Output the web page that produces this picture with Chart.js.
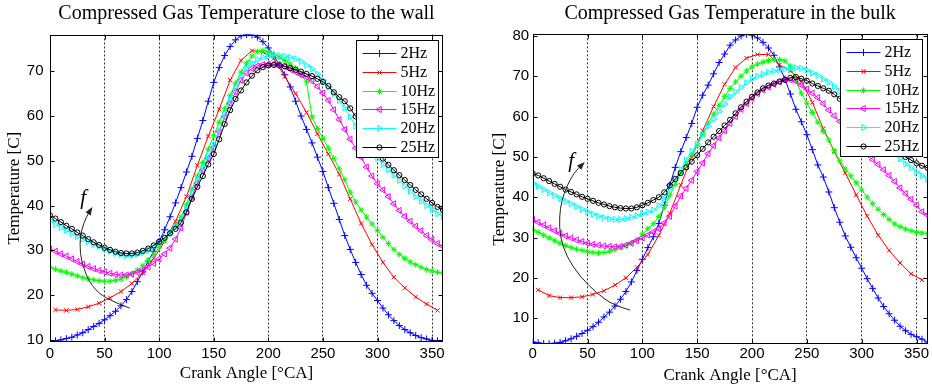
<!DOCTYPE html>
<html><head><meta charset="utf-8">
<script src="https://cdn.jsdelivr.net/npm/chart.js@4.4.1/dist/chart.umd.min.js"></script>
<style>
html,body{margin:0;padding:0;background:#fff;}
#wrap{position:relative;width:932px;height:390px;overflow:hidden;background:#fff;}
canvas{position:absolute;top:0;}
</style></head><body>
<div id="wrap">
<canvas id="cWall" width="466" height="390" style="left:0"></canvas>
<canvas id="cBulk" width="466" height="390" style="left:466px"></canvas>
</div>
<script>
// ---------------- DATA ----------------
const angle5 = [0,5,10,15,20,25,30,35,40,45,50,55,60,65,70,75,80,85,90,95,100,105,110,115,120,125,130,135,140,145,150,155,160,165,170,175,180,185,190,195,200,205,210,215,220,225,230,235,240,245,250,255,260,265,270,275,280,285,290,295,300,305,310,315,320,325,330,335,340,345,350,355,360];
const angle10 = [5,15,25,35,45,55,65,75,85,95,105,115,125,135,145,155,165,175,185,195,205,215,225,235,245,255,265,275,285,295,305,315,325,335,345,355];
const xTickValues = [0,50,100,150,200,250,300,350];
const wallTempTicks = [10,20,30,40,50,60,70];
const bulkTempTicks = [10,20,30,40,50,60,70,80];
const seriesLabels = ['2Hz','5Hz','10Hz','15Hz','20Hz','25Hz'];

// Close to the wall
const wall2Hz = [9.8,9.8,10.0,10.3,10.6,11.1,11.6,12.3,13.0,13.7,14.5,15.4,16.4,17.6,19.0,20.8,23.0,25.2,27.6,29.8,32.0,34.6,37.5,40.6,44.0,47.5,51.0,55.0,59.0,63.3,67.5,70.8,73.5,75.5,77.0,77.9,78.2,78.1,77.6,76.6,75.2,73.6,71.4,69.2,66.5,63.3,60.0,57.0,54.0,50.8,47.6,44.0,40.5,36.9,33.3,30.2,27.3,24.6,22.2,20.4,18.8,17.1,15.6,14.3,13.2,12.3,11.6,11.0,10.5,10.2,9.9,9.8,9.8];
const wall5Hz = [16.7,16.6,16.8,17.4,18.2,19.4,20.8,22.6,25.0,28.2,32.0,36.5,42.0,49.0,55.5,61.5,68.0,72.4,74.6,74.3,72.8,68.8,65.0,60.8,56.0,51.5,47.0,41.5,36.0,31.3,27.3,24.0,21.6,19.6,18.0,16.6];
const wall10Hz = [26.2,25.8,25.4,25.1,24.7,24.3,23.9,23.6,23.4,23.2,23.1,23.1,23.3,23.6,24.1,24.8,25.6,26.6,27.8,29.1,30.6,32.3,34.0,35.6,37.4,40.2,43.6,46.6,49.6,52.6,55.6,58.6,61.6,64.6,67.3,69.8,71.8,73.4,74.4,74.6,74.3,73.7,73.1,72.4,71.6,70.7,69.2,67.6,59.8,57.2,55.0,52.8,50.5,48.2,45.8,43.0,40.8,39.0,37.4,35.9,34.4,32.9,31.5,30.2,29.1,28.2,27.4,26.8,26.2,25.7,25.4,25.1,24.9];
const wall15Hz = [30.3,29.8,29.2,28.7,28.1,27.5,26.9,26.4,25.9,25.5,25.2,24.9,24.6,24.5,24.5,24.7,25.1,25.6,26.3,27.1,28.1,29.2,30.5,32.5,35.0,38.5,42.0,45.0,47.9,50.5,53.0,56.5,59.8,62.8,65.4,68.0,69.6,70.6,71.2,71.5,71.6,71.6,71.4,71.0,70.4,69.8,69.2,68.7,67.8,66.6,65.1,63.5,61.4,59.2,57.0,54.8,52.8,50.8,48.6,46.6,44.9,43.5,42.0,40.4,38.9,37.6,36.5,35.4,34.4,33.3,32.4,31.5,30.9];
const wall20Hz = [36.6,35.8,35.1,34.5,33.8,33.1,32.5,31.9,31.3,30.8,30.3,29.8,29.3,29.0,28.8,28.9,29.1,29.5,30.1,30.9,31.9,32.9,33.9,35.2,36.8,39.5,43.0,46.0,48.5,51.0,53.5,56.8,60.2,63.8,66.6,69.0,70.6,71.8,72.6,73.1,73.4,73.5,73.5,73.4,73.1,72.8,72.2,71.3,70.5,69.4,68.0,66.4,65.0,63.5,61.8,59.8,57.8,55.5,53.6,52.0,50.5,49.2,48.0,46.8,45.6,44.4,43.2,42.0,41.0,40.0,39.1,38.2,37.5];
const wall25Hz = [37.8,37.1,36.3,35.5,34.8,34.0,33.3,32.5,31.8,31.2,30.6,30.1,29.7,29.4,29.3,29.3,29.5,29.9,30.4,31.1,31.9,32.8,33.8,34.8,36.2,38.5,41.5,44.2,46.6,49.2,51.5,54.8,58.2,61.3,63.8,65.7,67.5,69.0,70.2,70.9,71.3,71.4,71.3,71.1,70.7,70.3,69.9,69.4,68.9,68.3,67.6,66.7,65.3,64.2,63.3,61.7,59.9,57.8,55.8,53.8,52.0,50.5,49.1,47.9,46.8,45.7,44.6,43.5,42.5,41.5,40.6,39.7,39.0];

// In the bulk
const bulk2Hz = [4.1,3.9,3.7,3.65,3.8,4.0,4.4,4.9,5.5,6.2,7.0,7.9,9.0,10.3,11.5,13.0,14.7,16.6,19.0,21.8,24.6,27.5,30.2,33.5,38.0,43.0,47.4,51.3,54.8,58.3,62.3,65.3,67.8,70.6,73.4,75.5,77.7,79.0,80.0,80.4,80.2,79.5,78.4,77.0,75.2,72.3,69.3,65.6,61.8,58.7,55.5,51.8,48.0,45.0,41.3,37.4,33.8,30.4,27.6,25.0,22.4,19.8,17.4,15.0,12.9,11.1,9.5,8.0,6.9,6.0,5.4,4.8,4.1];
const bulk5Hz = [17.0,15.6,15.1,15.1,15.3,15.9,16.8,18.2,20.0,22.6,25.8,30.5,36.0,43.0,50.0,56.5,62.5,68.0,72.2,74.5,75.4,75.4,72.8,71.3,68.8,63.5,57.0,51.3,46.0,40.6,35.3,30.6,26.8,23.7,21.0,19.5];
const bulk10Hz = [32.0,31.3,30.6,29.9,29.2,28.6,28.0,27.5,27.1,26.8,26.5,26.3,26.2,26.3,26.6,27.0,27.5,28.0,28.7,29.5,30.8,32.2,33.4,35.2,37.5,40.5,43.2,46.0,48.3,50.5,52.8,55.5,58.3,60.6,62.8,65.0,67.0,68.6,70.0,71.3,72.3,73.0,73.5,73.9,74.1,74.1,73.8,72.5,68.8,65.8,63.3,61.0,58.6,56.3,54.2,51.5,49.0,47.0,45.3,43.6,41.8,40.0,38.4,37.0,35.7,34.5,33.4,32.7,32.1,31.7,31.3,31.1,31.0];
const bulk15Hz = [34.5,33.8,33.1,32.4,31.7,31.0,30.4,29.9,29.4,29.0,28.6,28.3,28.1,27.9,27.8,27.7,27.8,28.1,28.6,29.2,29.9,30.6,31.4,32.2,33.6,35.3,37.8,40.3,42.2,44.2,46.4,48.5,50.8,52.8,54.7,56.5,58.3,60.0,61.8,63.2,64.5,65.7,66.6,67.3,68.0,68.6,69.0,69.1,68.8,67.8,66.8,65.8,64.7,63.2,61.6,60.2,58.8,57.2,55.5,53.7,52.0,50.6,49.3,48.1,46.8,45.4,43.9,42.3,40.9,39.5,38.0,36.4,35.6];
const bulk20Hz = [43.5,42.7,41.9,41.1,40.4,39.7,39.0,38.4,37.7,37.0,36.4,35.8,35.3,34.9,34.6,34.5,34.5,34.7,35.0,35.4,35.9,36.3,36.8,37.9,39.5,42.2,44.7,46.8,49.2,51.4,53.2,55.6,57.6,59.4,61.3,63.1,64.9,66.1,67.2,68.4,69.4,70.0,70.5,71.0,71.3,71.6,71.8,72.0,72.1,72.0,71.5,70.8,70.2,69.3,68.5,67.5,66.3,65.0,63.5,62.0,60.4,58.8,57.2,55.6,54.0,52.4,50.9,49.5,48.3,47.3,46.3,45.3,44.4];
const bulk25Hz = [45.9,45.4,44.7,44.0,43.3,42.6,41.9,41.3,40.7,40.1,39.6,39.1,38.6,38.2,37.8,37.5,37.3,37.2,37.2,37.5,38.0,38.6,39.3,40.0,41.2,42.9,44.5,46.0,47.4,48.8,50.4,52.0,53.6,55.0,56.4,57.8,59.2,60.8,62.3,63.7,64.9,66.0,67.0,67.7,68.2,68.7,69.1,69.6,69.8,69.4,68.9,68.2,67.6,67.0,66.4,65.5,64.4,63.2,62.0,60.6,59.2,57.9,56.6,55.3,54.1,53.0,51.9,50.9,50.0,49.2,48.4,47.8,47.3];

// Annotation arrows ("f" = increasing frequency), in data units
const wallArrowAngle = [73,53,38,28.7,27.2,28.7,33.3,37.8];
const wallArrowTemp  = [17.1,18.9,21.9,27.1,31.5,34.5,37.5,39.3];
const wallArrowLabelAt = [30.3, 41.6];
const bulkArrowAngle = [88.9,73.6,58.4,43.2,31,24.9,24.3,26.5,31,37.1,46.2];
const bulkArrowTemp  = [12,13.2,16.2,20.3,25.2,30.2,35.2,39.3,42.6,45.9,48.4];
const bulkArrowLabelAt = [35, 48.8];

// ---------------- STYLE ----------------
const seriesColors = ['#0000ff','#ff0000','#00ff00','#ff00ff','#00ffff','#000000'];
const markerStyles = ['cross','crossRot','star','triangle','triangle','circle'];
const markerRotations = [0,0,0,-90,90,0];
const markerRadii = [3.5,3,3,3.5,3.5,2.6];
const SERIF = '"Liberation Serif", "Times New Roman", serif';
const SANS = '"Liberation Sans", Arial, sans-serif';

function makeDatasets(list) {
  return list.map((s, i) => ({
    label: seriesLabels[i],
    data: s.a.map((a, k) => ({x: a, y: s.t[k]})),
    borderColor: seriesColors[i],
    backgroundColor: 'rgba(0,0,0,0)',
    borderWidth: 1,
    pointStyle: markerStyles[i],
    pointRotation: markerRotations[i],
    pointRadius: markerRadii[i],
    pointBorderWidth: 1,
    pointBorderColor: seriesColors[i],
    pointBackgroundColor: 'rgba(0,0,0,0)',
    pointHoverRadius: markerRadii[i],
    tension: 0,
    fill: false,
    order: 5 - i
  }));
}

const matlabFrame = {
  id: 'matlabFrame',
  afterDatasetsDraw(chart, args, o) {
    const {ctx, chartArea: a, scales: {x, y}} = chart;
    ctx.save();
    // box
    const L = Math.round(a.left) + 0.5, R = Math.round(a.right) - 0.5;
    const T = Math.round(a.top) + 0.5, B = Math.round(a.bottom) - 0.5;
    ctx.strokeStyle = '#000'; ctx.lineWidth = 1; ctx.setLineDash([]);
    ctx.strokeRect(L, T, R - L, B - T);
    // inward ticks
    ctx.beginPath();
    xTickValues.forEach(v => {
      const px = Math.round(x.getPixelForValue(v)) + 0.5;
      ctx.moveTo(px, B); ctx.lineTo(px, B - 4);
      ctx.moveTo(px, T); ctx.lineTo(px, T + 4);
    });
    o.yTicks.forEach(v => {
      const py = Math.round(y.getPixelForValue(v)) + 0.5;
      ctx.moveTo(L, py); ctx.lineTo(L + 4, py);
      ctx.moveTo(R, py); ctx.lineTo(R - 4, py);
    });
    ctx.stroke();

    // curved arrow with "f"
    const pts = o.arrowA.map((v, k) => ({x: x.getPixelForValue(v), y: y.getPixelForValue(o.arrowT[k])}));
    ctx.strokeStyle = '#222'; ctx.fillStyle = '#222'; ctx.lineWidth = 1;
    ctx.beginPath();
    ctx.moveTo(pts[0].x, pts[0].y);
    for (let i = 1; i < pts.length - 1; i++) {
      const mx = (pts[i].x + pts[i+1].x) / 2, my = (pts[i].y + pts[i+1].y) / 2;
      ctx.quadraticCurveTo(pts[i].x, pts[i].y, mx, my);
    }
    const pe = pts[pts.length - 1], pp = pts[pts.length - 2];
    ctx.lineTo(pe.x, pe.y);
    ctx.stroke();
    const ang = Math.atan2(pe.y - pp.y, pe.x - pp.x);
    ctx.beginPath();
    ctx.moveTo(pe.x + Math.cos(ang) * 2, pe.y + Math.sin(ang) * 2);
    ctx.lineTo(pe.x - Math.cos(ang) * 6 - Math.sin(ang) * 3, pe.y - Math.sin(ang) * 6 + Math.cos(ang) * 3);
    ctx.lineTo(pe.x - Math.cos(ang) * 6 + Math.sin(ang) * 3, pe.y - Math.sin(ang) * 6 - Math.cos(ang) * 3);
    ctx.closePath(); ctx.fill();
    ctx.fillStyle = '#000';
    ctx.font = 'italic 21px ' + SERIF;
    ctx.textAlign = 'center'; ctx.textBaseline = 'middle';
    ctx.fillText('f', x.getPixelForValue(o.fAt[0]), y.getPixelForValue(o.fAt[1]));

    // legend box
    const bx = Math.round(a.right - o.legRight - o.legW) + 0.5;
    const by = Math.round(a.top + o.legTop) + 0.5;
    ctx.fillStyle = '#fff';
    ctx.fillRect(bx, by, o.legW, o.legH);
    ctx.strokeStyle = '#000';
    ctx.strokeRect(bx, by, o.legW, o.legH);
    ctx.font = '16px ' + SERIF;
    ctx.textAlign = 'left'; ctx.textBaseline = 'middle';
    chart.data.datasets.forEach((ds, i) => {
      const ry = Math.round(by + 12.5 + i * 18.8) + 0.5;
      ctx.strokeStyle = ds.borderColor; ctx.lineWidth = 1;
      ctx.beginPath(); ctx.moveTo(bx + 6, ry); ctx.lineTo(bx + 40, ry); ctx.stroke();
      ctx.fillStyle = 'rgba(0,0,0,0)';
      Chart.helpers.drawPoint(ctx, {pointStyle: ds.pointStyle, rotation: ds.pointRotation, radius: ds.pointRadius, borderWidth: 1}, bx + 23, ry);
      ctx.fillStyle = '#000';
      ctx.fillText(ds.label, bx + 44, ry + 0.5);
    });
    ctx.restore();
  }
};

function buildChart(id, cfg) {
  return new Chart(document.getElementById(id), {
    type: 'line',
    data: {datasets: makeDatasets(cfg.series)},
    plugins: [matlabFrame],
    options: {
      responsive: false,
      animation: false,
      devicePixelRatio: 1,
      events: [],
      layout: {padding: {left: 0, top: 0, right: cfg.padRight, bottom: 0}},
      plugins: {
        legend: {display: false},
        tooltip: {enabled: false},
        title: {display: true, text: cfg.title, fullSize: false, color: '#000',
                font: {family: SERIF, size: 20, weight: 'normal'},
                padding: {top: 2, bottom: cfg.titleBottom}},
        matlabFrame: {yTicks: cfg.yTicks, arrowA: cfg.arrowA, arrowT: cfg.arrowT, fAt: cfg.fAt,
                      legRight: cfg.legRight, legTop: cfg.legTop, legW: 82, legH: 117}
      },
      scales: {
        x: {
          type: 'linear', min: 0, max: 360,
          afterBuildTicks: s => { s.ticks = xTickValues.map(v => ({value: v})); },
          afterFit: s => { s.height = cfg.xHeight; },
          grid: {display: true, drawTicks: false, lineWidth: 1,
                 color: c => (c.tick && c.tick.value === 0) ? 'rgba(0,0,0,0)' : '#333'},
          border: {display: false, dash: [2, 2]},
          ticks: {color: '#000', padding: cfg.xPad, maxRotation: 0, autoSkip: false,
                  font: {family: SANS, size: 15}},
          title: {display: true, text: 'Crank Angle [°CA]', color: '#000',
                  font: {family: SERIF, size: 17}, padding: {top: 0, bottom: cfg.xTitleBottom}}
        },
        y: {
          type: 'linear', min: cfg.yMin, max: cfg.yMax,
          afterBuildTicks: s => { s.ticks = cfg.yTicks.map(v => ({value: v})); },
          afterFit: s => { s.width = cfg.yWidth; },
          grid: {display: false, drawTicks: false},
          border: {display: false},
          ticks: {color: '#000', padding: cfg.yPad, autoSkip: false,
                  font: {family: SANS, size: 15}},
          title: {display: true, text: 'Temperature [C]', color: '#000',
                  font: {family: SERIF, size: 17}, padding: {top: cfg.yTitleTop, bottom: 0}}
        }
      }
    }
  });
}

buildChart('cWall', {
  title: 'Compressed Gas Temperature close to the wall',
  series: [
    {a: angle5, t: wall2Hz}, {a: angle10, t: wall5Hz}, {a: angle5, t: wall10Hz},
    {a: angle5, t: wall15Hz}, {a: angle5, t: wall20Hz}, {a: angle5, t: wall25Hz}
  ],
  yTicks: wallTempTicks, yMin: 9.6, yMax: 78.2,
  arrowA: wallArrowAngle, arrowT: wallArrowTemp, fAt: wallArrowLabelAt,
  padRight: 23, titleBottom: 8.5, xHeight: 48.3, yWidth: 50,
  xPad: 3, yPad: 6.5, xTitleBottom: 6, yTitleTop: 4.8,
  legRight: 5.3, legTop: 5.5
});

buildChart('cBulk', {
  title: 'Compressed Gas Temperature in the bulk',
  series: [
    {a: angle5, t: bulk2Hz}, {a: angle10, t: bulk5Hz}, {a: angle5, t: bulk10Hz},
    {a: angle5, t: bulk15Hz}, {a: angle5, t: bulk20Hz}, {a: angle5, t: bulk25Hz}
  ],
  yTicks: bulkTempTicks, yMin: 3.6, yMax: 80.4,
  arrowA: bulkArrowAngle, arrowT: bulkArrowTemp, fAt: bulkArrowLabelAt,
  padRight: 4.3, titleBottom: 8.3, xHeight: 46, yWidth: 66.7,
  xPad: 0.5, yPad: 3.5, xTitleBottom: 3.8, yTitleTop: 23.3,
  legRight: 5.7, legTop: 4.7
});
</script>
</body></html>
